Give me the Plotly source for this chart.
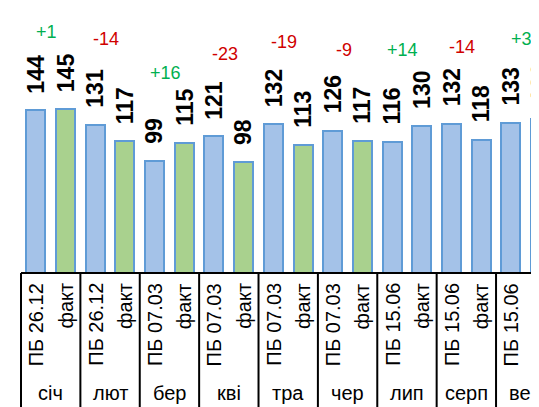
import plotly.graph_objects as go

# ---- data ----
months = ["січ", "лют", "бер", "кві", "тра", "чер", "лип", "серп", "вер"]
plan_labels = ["ПБ 26.12", "ПБ 26.12", "ПБ 07.03", "ПБ 07.03", "ПБ 07.03",
               "ПБ 07.03", "ПБ 15.06", "ПБ 15.06", "ПБ 15.06"]
fact_label = "факт"
plan_values = [144, 131, 99, 121, 132, 126, 116, 132, 133]
fact_values = [145, 117, 115, 98, 113, 117, 130, 118, 136]
n_actual_months = 6  # months whose fact bars are drawn green

# ---- layout / style ----
# the page body adds an 8px margin, so the figure is 8px smaller each way
W, H = 531, 399
X_RANGE = [-0.938, 16.947]
Y_RANGE = [0, 223.9]
MARGIN = dict(l=0, r=0, t=12, b=134)
diff_label_y = [213, 207.5, 177, 194, 204, 197, 197, 200, 207.5]
BLUE_FILL = "#A4C2E8"
GREEN_FILL = "#A9D18E"
EDGE = "#5F9BD6"
FONT = "Liberation Sans"

xs, ys, colors, sublabels = [], [], [], []
for k, m in enumerate(months):
    xs += [2 * k, 2 * k + 1]
    ys += [plan_values[k], fact_values[k]]
    colors += [BLUE_FILL, GREEN_FILL if k < n_actual_months else BLUE_FILL]
    sublabels += [plan_labels[k], fact_label]

fig = go.Figure()
fig.add_trace(go.Bar(
    x=xs, y=ys, width=0.64,
    marker=dict(color=colors, line=dict(color=EDGE, width=2)),
    hoverinfo="skip", showlegend=False,
))


def to_paper(v):
    return (v - X_RANGE[0]) / (X_RANGE[1] - X_RANGE[0])


ann = []
for x, y, lab in zip(xs, ys, sublabels):
    # value labels
    ann.append(dict(x=to_paper(x), xref="paper", y=y, yref="y", text=f"<b>{y}</b>",
                    textangle=-90, showarrow=False, xanchor="center", yanchor="bottom",
                    yshift=15, font=dict(family=FONT, size=23, color="black")))
    # inner category labels
    ann.append(dict(x=to_paper(x), xref="paper", y=0, yref="paper", text=lab,
                    textangle=-90, showarrow=False, xanchor="center", yanchor="top",
                    yshift=-8, font=dict(family=FONT, size=20, color="black")))

for k, m in enumerate(months):
    c = 2 * k + 0.5
    ann.append(dict(x=to_paper(c), xref="paper", y=0, yref="paper", text=m,
                    showarrow=False, xanchor="center", yanchor="middle",
                    yshift=-120, font=dict(family=FONT, size=20, color="black")))
    d = fact_values[k] - plan_values[k]
    ann.append(dict(x=to_paper(c), xref="paper", y=diff_label_y[k], yref="y",
                    text=f"{d:+d}", showarrow=False, xanchor="center", yanchor="middle",
                    xshift=-4,
                    font=dict(family=FONT, size=18,
                              color="#00B050" if d > 0 else "#D00000")))

shapes = [dict(type="line", xref="x", yref="paper", x0=-0.5, x1=len(xs) - 0.5,
               y0=0, y1=0, line=dict(color="black", width=2))]
for k in range(len(months) + 1):
    b = 2 * k - 0.5
    shapes.append(dict(type="line", xref="x", yref="paper", x0=b, x1=b,
                       y0=0, y1=-1.2, line=dict(color="black", width=2)))

fig.update_layout(
    width=W, height=H, margin=MARGIN,
    paper_bgcolor="white", plot_bgcolor="white",
    xaxis=dict(range=X_RANGE, visible=False, fixedrange=True),
    yaxis=dict(range=Y_RANGE, visible=False, fixedrange=True),
    annotations=ann, shapes=shapes, bargap=0,
)

fig.write_html("out.html", config={"displayModeBar": False})
